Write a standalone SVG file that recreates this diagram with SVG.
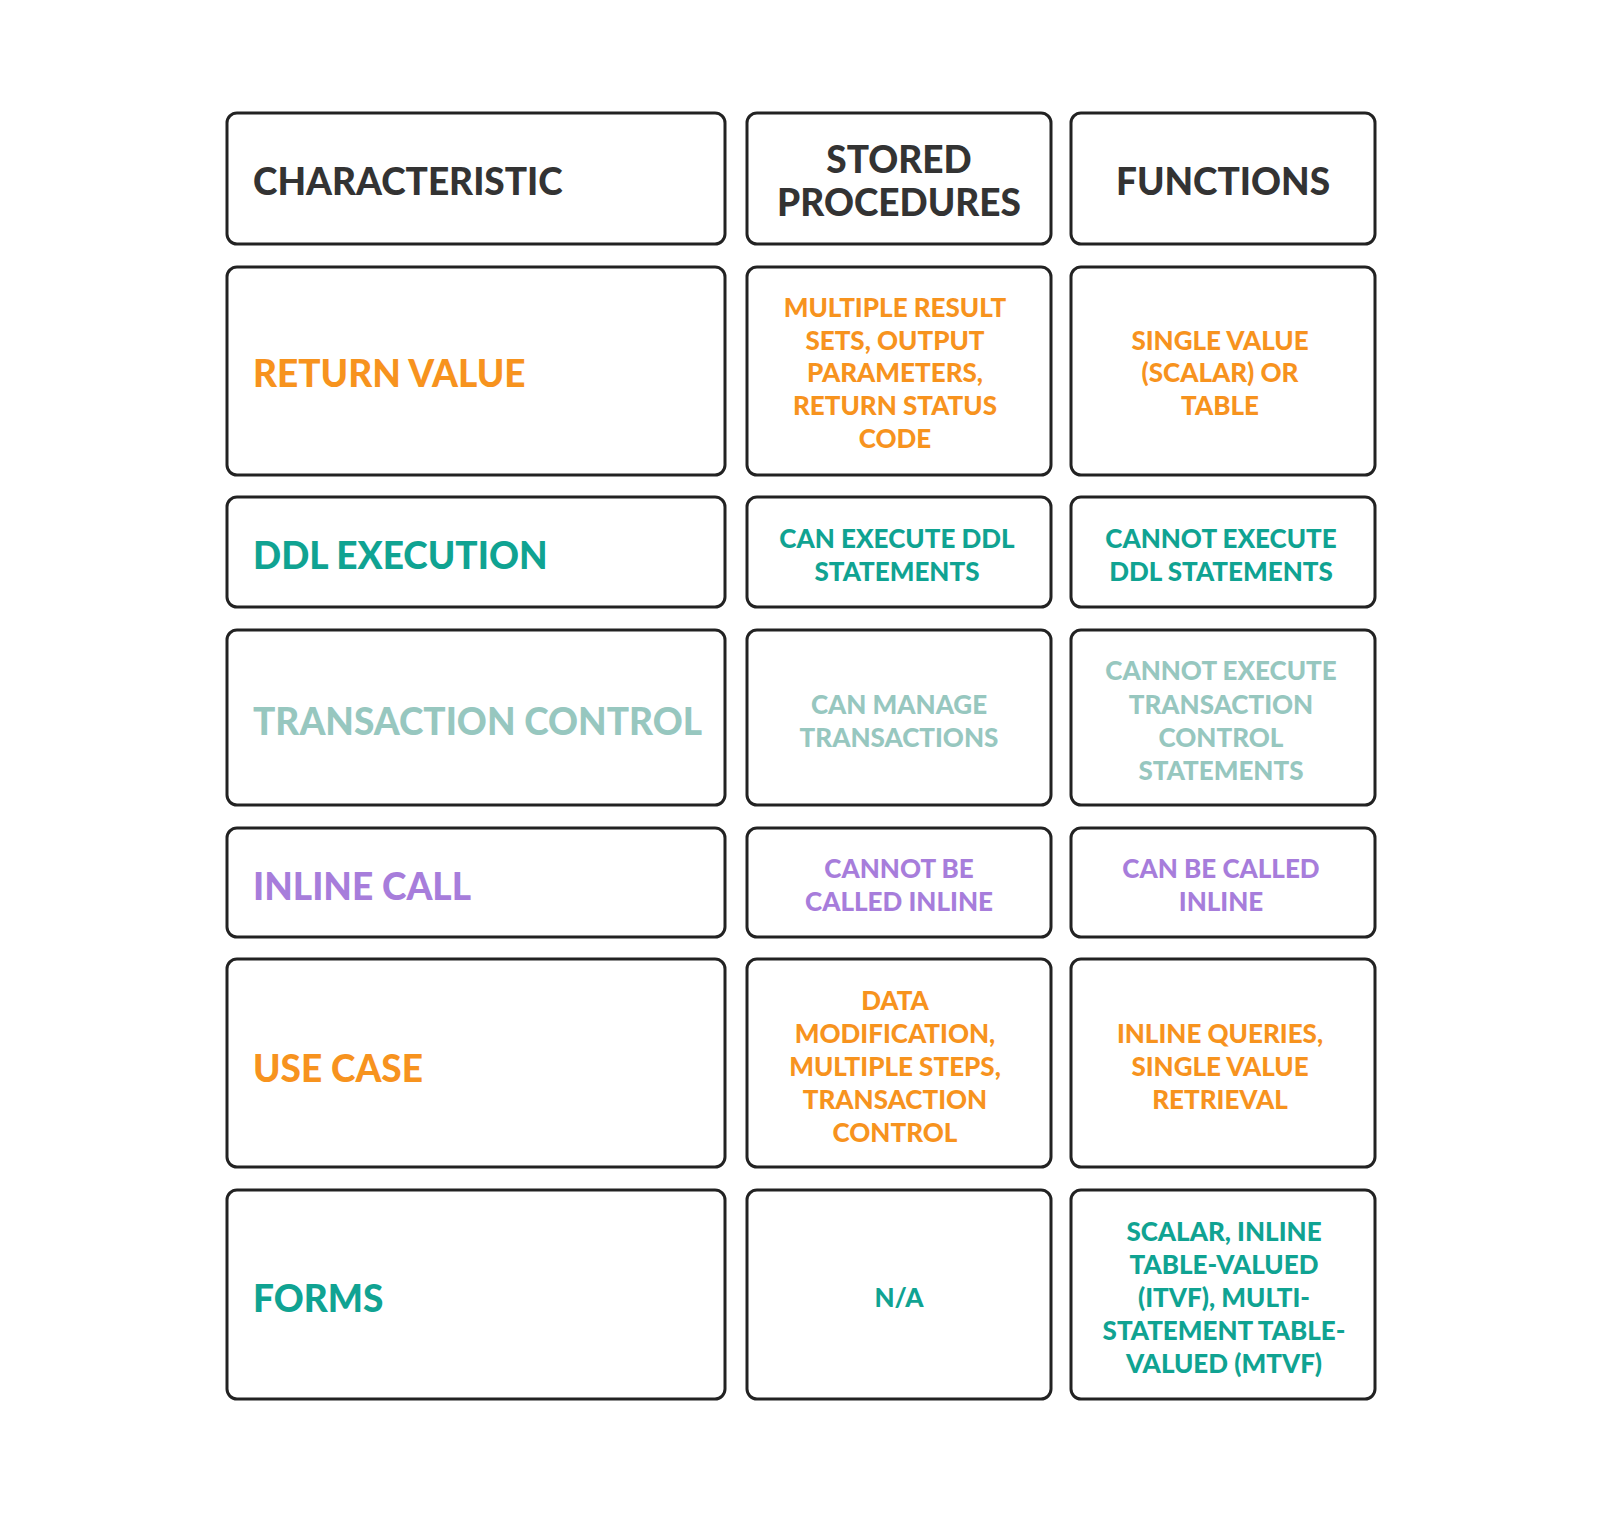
<svg xmlns="http://www.w3.org/2000/svg" width="1600" height="1532" viewBox="0 0 1600 1532">
<style>
rect{fill:#fff;stroke:#222;stroke-width:3}
text{font-family:Lato,"Liberation Sans",sans-serif;font-weight:900;dominant-baseline:central}
.h{font-size:37px;fill:#333}
.l{font-size:37px}
.c{font-size:26px;text-anchor:middle}
.o{fill:#F7931E}.t{fill:#10A392}.g{fill:#97C7BF}.p{fill:#A77DDB}
</style>
<rect width="1600" height="1532" style="fill:#fff;stroke:none"/>
<g id="h1"><rect x="227" y="113" width="498" height="131" rx="10"/><text class="h" x="253" y="180">CHARACTERISTIC</text></g>
<g id="h2"><rect x="747" y="113" width="304" height="131" rx="10"/><text class="h" x="899" y="158" text-anchor="middle">STORED</text><text class="h" x="899" y="201" text-anchor="middle">PROCEDURES</text></g>
<g id="h3"><rect x="1071" y="113" width="304" height="131" rx="10"/><text class="h" x="1223" y="180" text-anchor="middle">FUNCTIONS</text></g>

<g id="r1a"><rect x="227" y="267" width="498" height="208" rx="10"/><text class="l o" x="253" y="372">RETURN VALUE</text></g>
<g id="r1b"><rect x="747" y="267" width="304" height="208" rx="10"/><text class="c o" x="895" y="307">MULTIPLE RESULT</text><text class="c o" x="895" y="340">SETS, OUTPUT</text><text class="c o" x="895" y="372">PARAMETERS,</text><text class="c o" x="895" y="405">RETURN STATUS</text><text class="c o" x="895" y="438">CODE</text></g>
<g id="r1c"><rect x="1071" y="267" width="304" height="208" rx="10"/><text class="c o" x="1220" y="340">SINGLE VALUE</text><text class="c o" x="1220" y="372">(SCALAR) OR</text><text class="c o" x="1220" y="405">TABLE</text></g>

<g id="r2a"><rect x="227" y="497" width="498" height="110" rx="10"/><text class="l t" x="253" y="554">DDL EXECUTION</text></g>
<g id="r2b"><rect x="747" y="497" width="304" height="110" rx="10"/><text class="c t" x="897" y="538">CAN EXECUTE DDL</text><text class="c t" x="897" y="571">STATEMENTS</text></g>
<g id="r2c"><rect x="1071" y="497" width="304" height="110" rx="10"/><text class="c t" x="1221" y="538">CANNOT EXECUTE</text><text class="c t" x="1221" y="571">DDL STATEMENTS</text></g>

<g id="r3a"><rect x="227" y="630" width="498" height="175" rx="10"/><text class="l g" x="253" y="720">TRANSACTION CONTROL</text></g>
<g id="r3b"><rect x="747" y="630" width="304" height="175" rx="10"/><text class="c g" x="899" y="704">CAN MANAGE</text><text class="c g" x="899" y="737">TRANSACTIONS</text></g>
<g id="r3c"><rect x="1071" y="630" width="304" height="175" rx="10"/><text class="c g" x="1221" y="670">CANNOT EXECUTE</text><text class="c g" x="1221" y="704">TRANSACTION</text><text class="c g" x="1221" y="737">CONTROL</text><text class="c g" x="1221" y="770">STATEMENTS</text></g>

<g id="r4a"><rect x="227" y="828" width="498" height="109" rx="10"/><text class="l p" x="253" y="885">INLINE CALL</text></g>
<g id="r4b"><rect x="747" y="828" width="304" height="109" rx="10"/><text class="c p" x="899" y="868">CANNOT BE</text><text class="c p" x="899" y="901">CALLED INLINE</text></g>
<g id="r4c"><rect x="1071" y="828" width="304" height="109" rx="10"/><text class="c p" x="1221" y="868">CAN BE CALLED</text><text class="c p" x="1221" y="901">INLINE</text></g>

<g id="r5a"><rect x="227" y="959" width="498" height="208" rx="10"/><text class="l o" x="253" y="1067">USE CASE</text></g>
<g id="r5b"><rect x="747" y="959" width="304" height="208" rx="10"/><text class="c o" x="895" y="1000">DATA</text><text class="c o" x="895" y="1033">MODIFICATION,</text><text class="c o" x="895" y="1066">MULTIPLE STEPS,</text><text class="c o" x="895" y="1099">TRANSACTION</text><text class="c o" x="895" y="1132">CONTROL</text></g>
<g id="r5c"><rect x="1071" y="959" width="304" height="208" rx="10"/><text class="c o" x="1220" y="1033">INLINE QUERIES,</text><text class="c o" x="1220" y="1066">SINGLE VALUE</text><text class="c o" x="1220" y="1099">RETRIEVAL</text></g>

<g id="r6a"><rect x="227" y="1190" width="498" height="209" rx="10"/><text class="l t" x="253" y="1297">FORMS</text></g>
<g id="r6b"><rect x="747" y="1190" width="304" height="209" rx="10"/><text class="c t" x="899" y="1297">N/A</text></g>
<g id="r6c"><rect x="1071" y="1190" width="304" height="209" rx="10"/><text class="c t" x="1224" y="1231">SCALAR, INLINE</text><text class="c t" x="1224" y="1264">TABLE-VALUED</text><text class="c t" x="1224" y="1297">(ITVF), MULTI-</text><text class="c t" x="1224" y="1330">STATEMENT TABLE-</text><text class="c t" x="1224" y="1363">VALUED (MTVF)</text></g>
<g id="connectors"/>
</svg>
